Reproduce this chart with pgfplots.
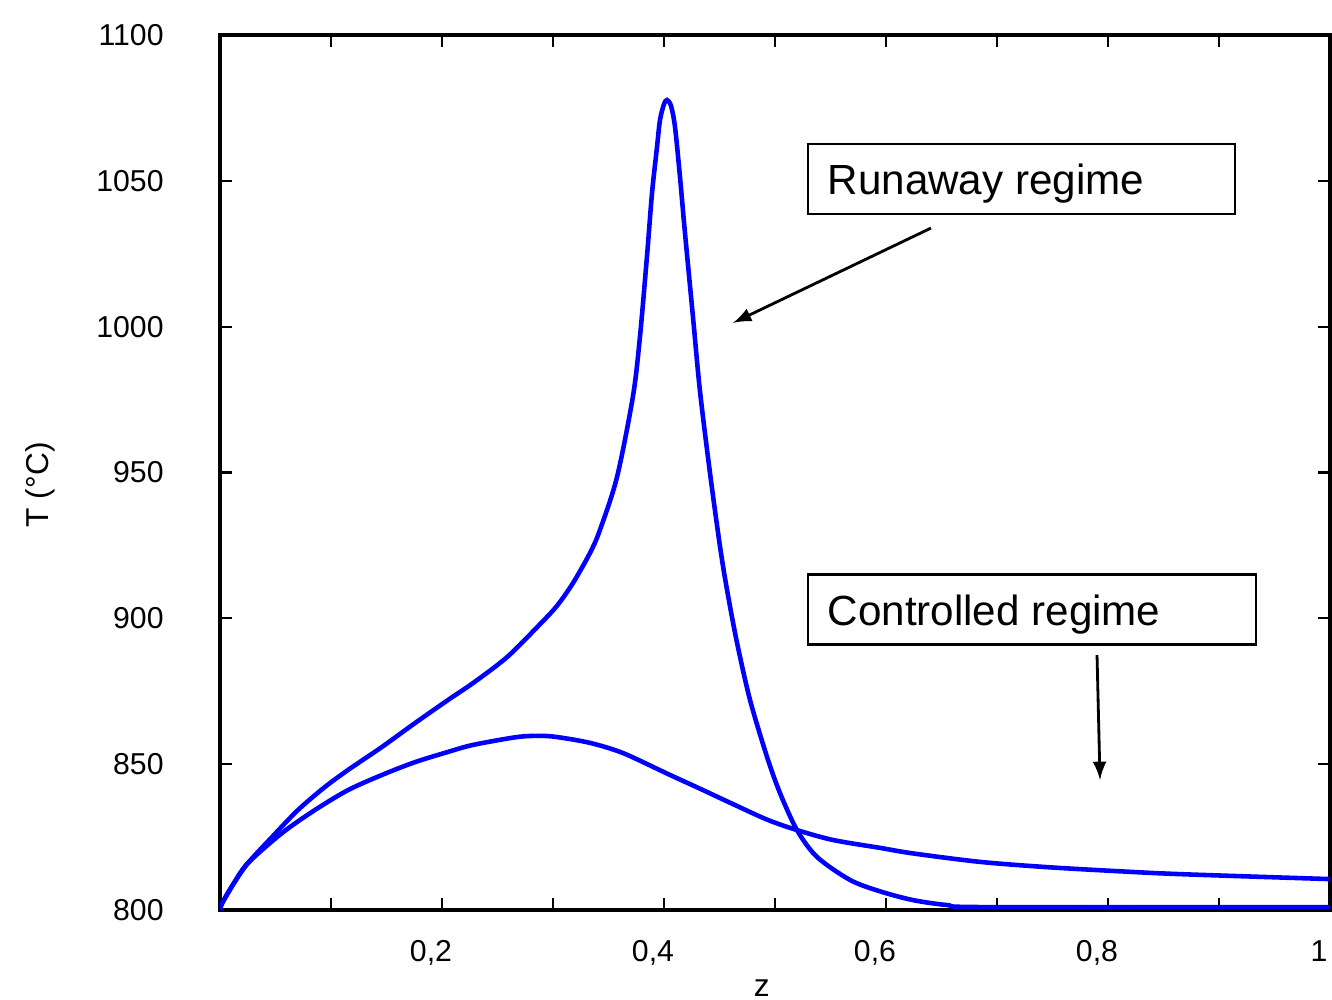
\documentclass[border=0pt]{standalone}
\usepackage{pgfplots}
\pgfplotsset{compat=1.18}
\usepackage{fontspec}
\setmainfont{Liberation Sans}

\begin{document}
\begin{tikzpicture}
% page frame: 1 px of the reference = 0.01 cm, axis corner at (0,0)
\useasboundingbox (-2.20,-0.89) rectangle (11.12,9.10);
\begin{axis}[
    scale only axis,
    width=11.10cm, height=8.75cm,
    xmin=0, xmax=1, ymin=800, ymax=1100,
    xtick={0.1,0.2,...,0.9,1},
    xticklabels={,{0,2},,{0,4},,{0,6},,{0,8},,1},
    ytick={800,850,...,1100},
    tick align=inside,
    major tick length=1.2mm,
    every tick/.style={black, line width=0.6pt},
    axis line style={line width=0.9pt},
    /pgf/number format/assume math mode=true,
    /pgf/number format/1000 sep={},
    ticklabel style={font=\fontsize{8.6}{10}\selectfont},
    xticklabel style={yshift=-1.8mm, xshift=-1.1mm},
    yticklabel style={xshift=-4.4mm},
    xlabel={z},
    ylabel={T (°C)},
    label style={font=\fontsize{9}{11}\selectfont},
    xlabel style={at={(axis description cs:0.488,-0.089)}, anchor=center},
    ylabel style={at={(axis description cs:-0.162,0.486)}, anchor=center},
  ]
  % runaway regime
  \addplot[blue, line width=1.3pt, smooth, tension=0.5] coordinates {
    (0,800) (0.002,802.4) (0.0130,809.5) (0.0252,816.1) (0.0468,825.0) (0.0703,834.3)
    (0.0946,842.2) (0.1153,848.0) (0.1459,855.9) (0.1757,864.1)
    (0.2054,872.0) (0.2279,877.8) (0.2586,886.7) (0.2883,898.0)
    (0.3036,904.3) (0.3180,912.1) (0.3333,922.4) (0.3423,930.3)
    (0.3577,948.5) (0.3721,976.3) (0.3784,996.8) (0.3847,1024.3)
    (0.3892,1045.8) (0.3937,1061.6) (0.3964,1070.9) (0.4000,1076.3)
    (0.4027,1077.7) (0.4063,1075.7) (0.4099,1068.5) (0.4144,1051.3)
    (0.4189,1032.1) (0.4261,1003.3) (0.4324,977.9) (0.4414,949.9)
    (0.4505,924.5) (0.4568,909.7) (0.4658,891.6) (0.4775,872.0)
    (0.4928,852.5) (0.5045,840.1) (0.5198,827.4) (0.5378,818.2)
    (0.5676,810.3) (0.5946,806.4) (0.6243,803.4) (0.6550,801.7)
    (0.6910,801.0) (1.0,801.0)
  };
  % controlled regime
  \addplot[blue, line width=1.3pt, smooth, tension=0.5] coordinates {
    (0,800) (0.002,802.4) (0.0130,809.5) (0.0252,816.1) (0.0559,826.4) (0.0856,834.3)
    (0.1153,841.1) (0.1459,846.3) (0.1757,850.7) (0.2054,854.2)
    (0.2279,856.6) (0.2676,859.3) (0.2883,859.7) (0.3036,859.3)
    (0.3333,857.3) (0.3631,853.8) (0.4054,846.3) (0.4324,841.6)
    (0.4622,836.3) (0.4928,831.0) (0.5198,827.4) (0.5523,824.0)
    (0.5946,821.3) (0.6243,819.4) (0.6847,816.5) (0.7450,814.7)
    (0.8045,813.4) (0.8649,812.3) (1.0,810.6)
  };
  % annotations
  \draw[line width=0.8pt] (axis cs:0.5297,1062.6) rectangle (axis cs:0.9144,1038.6);
  \node[anchor=west, inner sep=0pt, font=\fontsize{12}{14}\selectfont]
    at (axis cs:0.5468,1049.0) {Runaway regime};
  \draw[line width=0.8pt, -latex] (axis cs:0.6405,1033.8) -- (axis cs:0.4622,1001.3);
  \draw[line width=0.8pt] (axis cs:0.5297,914.9) rectangle (axis cs:0.9333,890.9);
  \node[anchor=west, inner sep=0pt, font=\fontsize{12}{14}\selectfont]
    at (axis cs:0.5468,901.3) {Controlled regime};
  \draw[line width=0.8pt, -latex] (axis cs:0.7901,887.4) -- (axis cs:0.7928,844.6);
\end{axis}
\end{tikzpicture}
\end{document}
